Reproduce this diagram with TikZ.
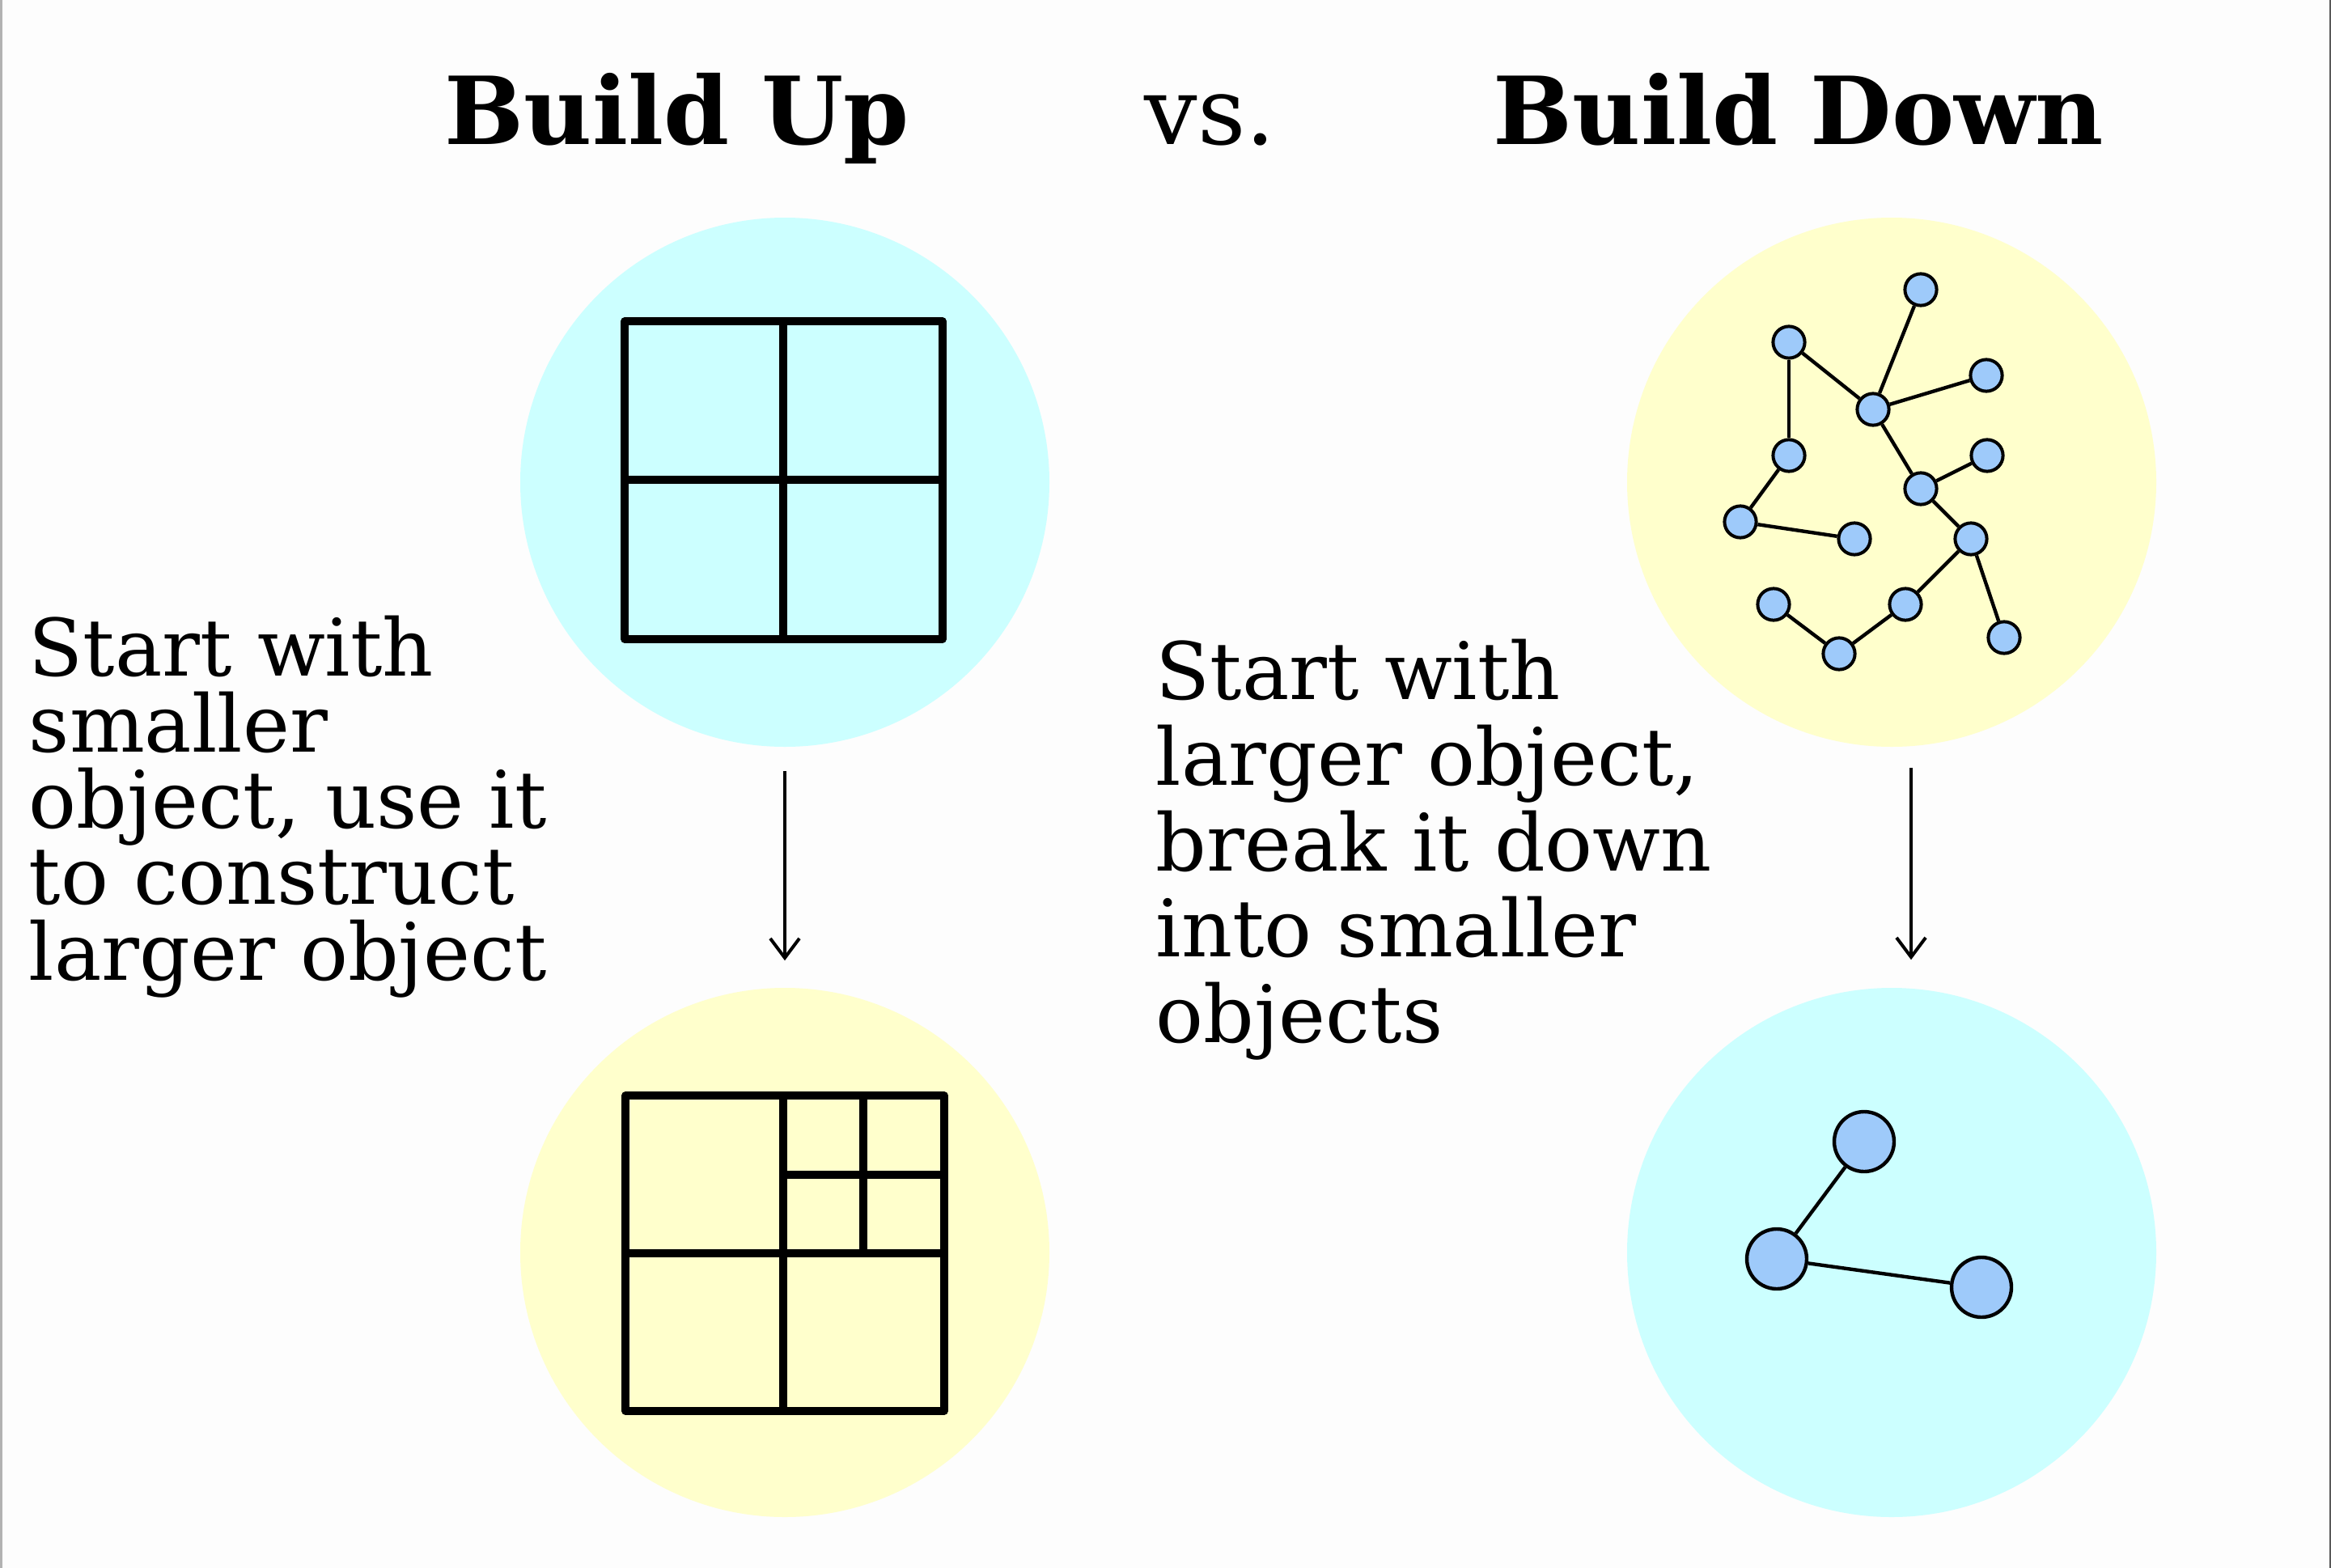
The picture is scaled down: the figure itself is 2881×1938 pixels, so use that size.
\documentclass[tikz,border=0pt]{standalone}
\usepackage{fontspec}
\setmainfont{DejaVu Serif}
\usetikzlibrary{arrows.meta}
\definecolor{palecyan}{RGB}{204,255,255}
\definecolor{paleyellow}{RGB}{255,255,204}
\definecolor{nodeblue}{RGB}{158,202,250}
\definecolor{pagebg}{RGB}{253,253,253}
\newcommand\blurbfont[1]{\fontsize{24.5}{#1}\selectfont\lineskiplimit-20pt\relax}

\begin{document}
\begin{tikzpicture}[x=0.25pt,y=-0.25pt,
  blob/.style={circle,minimum size=163.5pt,inner sep=0pt},
  dot/.style={circle,draw,line width=1pt,fill=nodeblue,minimum size=9.8pt,inner sep=0pt},
  bigdot/.style={dot,line width=1.1pt,minimum size=18.5pt},
  link/.style={line width=1.1pt},
  gridline/.style={line width=2.3pt,line join=round},
  flow/.style={line width=0.9pt,-{Straight Barb[length=6pt,width=9pt,line width=1pt]}},
  title/.style={font=\fontsize{29}{35}\selectfont,anchor=base west,inner sep=0pt},
  blurb/.style={anchor=north west,align=left,inner sep=0pt}]
  \useasboundingbox (0,0) rectangle (2881,1938);
  \fill[pagebg] (0,0) rectangle (2881,1938);
  \draw[black!30,line width=0.75pt] (1.5,0) -- (1.5,1938);
  \draw[black!65,line width=0.4pt] (2880,0) -- (2880,1938);

  \node[title] (hUp) at (549,178) {\textbf{Build Up}};
  \node[title] (hVs) at (1414,178) {vs.};
  \node[title] (hDown) at (1845,178) {\textbf{Build Down}};

  \node[blob,fill=palecyan] (upL) at (970,596) {};
  \node[blob,fill=paleyellow] (downL) at (970,1548) {};
  \node[blob,fill=paleyellow] (upR) at (2338,596) {};
  \node[blob,fill=palecyan] (downR) at (2338,1548) {};

  \draw[gridline] (772,397) rectangle (1165,790)
    (968,397) -- (968,790) (772,593) -- (1165,593);
  \draw[gridline] (773,1354) rectangle (1167,1744)
    (968,1354) -- (968,1744) (773,1549) -- (1167,1549)
    (1067,1354) -- (1067,1549) (968,1452) -- (1167,1452);

  \foreach \n/\x/\y in {1/2374/358, 2/2211/423, 3/2315/506, 4/2455/464,
      5/2211/563, 6/2456/563, 7/2374/604, 8/2151/645, 9/2292/666,
      10/2436/666, 11/2192/747, 12/2355/747, 13/2273/808, 14/2477/788}
    \node[dot] (g\n) at (\x,\y) {};
  \foreach \a/\b in {2/3, 1/3, 3/4, 2/5, 5/8, 8/9, 3/7, 7/6, 7/10,
      10/12, 12/13, 13/11, 10/14}
    \draw[link] (g\a) -- (g\b);

  \node[bigdot] (p1) at (2304,1411) {};
  \node[bigdot] (p2) at (2196,1556) {};
  \node[bigdot] (p3) at (2449,1591) {};
  \draw[link] (p1) -- (p2) -- (p3);

  \draw[flow,shorten <=7.25pt,shorten >=8.25pt] (upL) -- (downL);
  \draw[flow,shorten <=6.25pt,shorten >=8.5pt] ([xshift=6pt]upR.south) -- ([xshift=6pt]downR.north);

  \node[blurb,font=\blurbfont{23.5}] (txtUp) at (35,760)
    {Start with\\smaller\\object, use it\\to construct\\larger object};
  \node[blurb,font=\blurbfont{26.5}] (txtDown) at (1428,789)
    {Start with\\larger object,\\break it down\\into smaller\\objects};
\end{tikzpicture}
\end{document}
